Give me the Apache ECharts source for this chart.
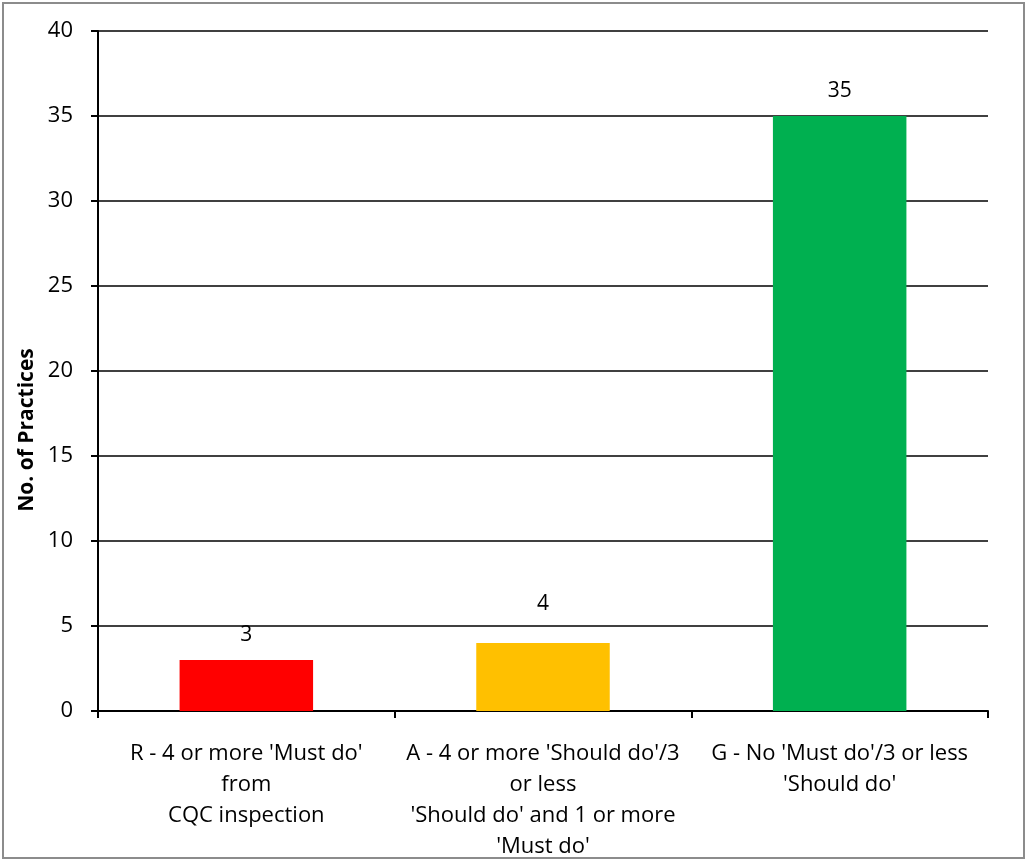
<!DOCTYPE html>
<html>
<head>
<meta charset="utf-8">
<script src="https://cdn.jsdelivr.net/npm/echarts@6/dist/echarts.min.js"></script>
<style>
  html, body { margin: 0; padding: 0; background: #fff; }
  #chart { width: 1028px; height: 862px; }
</style>
</head>
<body>
<div id="chart"></div>
<script>
// data
const categories = [
  "R - 4 or more 'Must do'\nfrom\nCQC inspection",
  "A - 4 or more 'Should do'/3\nor less\n'Should do' and 1 or more\n'Must do'",
  "G - No 'Must do'/3 or less\n'Should do'"
]
const practices = [3, 4, 35]
const barColors = ['#ff0000', '#ffc000', '#00b050']
const yTicks = [0, 5, 10, 15, 20, 25, 30, 35, 40]

const font = 'Open Sans, Noto Sans, sans-serif'
const chart = echarts.init(document.getElementById('chart'))
const option = {
  animation: false,
  textStyle: { fontFamily: font },
  grid: { left: 98, right: 40, top: 31, bottom: 149 },
  graphic: [
    {
      type: 'rect',
      shape: { x: 3, y: 3, width: 1021, height: 855 },
      style: { fill: 'none', stroke: '#8c8c8c', lineWidth: 2 }
    },
    {
      type: 'text',
      x: 27, y: 430,
      rotation: Math.PI / 2,
      style: {
        text: 'No. of Practices',
        fill: '#000',
        font: 'bold 21px ' + font,
        align: 'center',
        verticalAlign: 'middle'
      }
    }
  ],
  xAxis: {
    type: 'category',
    data: categories,
    axisLine: { lineStyle: { color: '#000', width: 2 } },
    axisTick: { show: true, length: 7, lineStyle: { color: '#000', width: 2 } },
    axisLabel: {
      interval: 0,
      color: '#000',
      fontSize: 22,
      lineHeight: 31,
      margin: 27
    }
  },
  yAxis: {
    type: 'value',
    min: yTicks[0],
    max: yTicks[yTicks.length - 1],
    interval: yTicks[1] - yTicks[0],
    axisLine: { show: true, lineStyle: { color: '#000', width: 2 } },
    axisTick: { show: true, length: 7, lineStyle: { color: '#000', width: 2 } },
    splitLine: { lineStyle: { color: '#000', width: 1.5 } },
    axisLabel: { color: '#000', fontSize: 22, margin: 25 }
  },
  series: [
    {
      type: 'bar',
      barWidth: '45%',
      data: practices.map((v, i) => ({
        value: v,
        itemStyle: { color: barColors[i] },
        // the "4" label sits higher in the reference
        label: i === 1 ? { distance: 28 } : undefined
      })),
      label: {
        show: true,
        position: 'top',
        distance: 14,
        color: '#000',
        fontSize: 21
      }
    }
  ]
}
chart.setOption(option)
</script>
</body>
</html>
